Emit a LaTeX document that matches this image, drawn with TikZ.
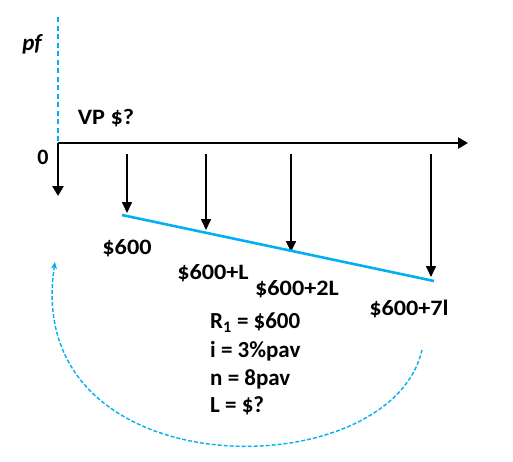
\documentclass[tikz,border=0pt]{standalone}
\usepackage{fontspec}
\setmainfont{Carlito}
\usetikzlibrary{arrows.meta}
\definecolor{skyb}{RGB}{0,176,240}
\tikzset{
  axis/.style={line width=2.6pt,-{Triangle[width=11pt,length=10pt]}},
  flow/.style={line width=1.6pt,-{Triangle[width=10pt,length=11pt]}},
  lbl/.style={font=\bfseries\fontsize{22}{26}\selectfont,inner sep=0pt,xscale=1.1},
  info/.style={font=\bfseries\fontsize{23}{27}\selectfont,inner sep=0pt,anchor=west},
  guide/.style={skyb,line width=2.4pt,dash pattern=on 5pt off 3.5pt},
  loop/.style={skyb,line width=1.4pt,dash pattern=on 4pt off 2pt,{Stealth[length=7pt,width=6pt,open]}-}
}
\begin{document}
\begin{tikzpicture}[x=1pt,y=-1pt]
\useasboundingbox (0,0) rectangle (513,461);
% dashed guide
\coordinate (gtop) at (58,17);
\coordinate (O) at (58,143);
\draw[guide] (gtop) -- (O);
\node[font=\bfseries\itshape\fontsize{23}{26}\selectfont] (pf) at (32,44) {pf};
\node[font=\bfseries\fontsize{22}{26}\selectfont,anchor=west,xscale=1.1] (vp) at (74,118) {VP \$?};
\node[font=\bfseries\fontsize{22}{26}\selectfont] (zero) at (43,157) {0};
% axis
\coordinate (E) at (468,143);
\draw[axis] (O) -- (E);
\coordinate (d0) at (58,196);
\draw[axis] (O) -- (d0);
% cash flow arrows
\coordinate (a1s) at (127,154); \coordinate (a1e) at (127,213);
\coordinate (a2s) at (206,154); \coordinate (a2e) at (206,230);
\coordinate (a3s) at (291,154); \coordinate (a3e) at (291,252);
\coordinate (a4s) at (431,154); \coordinate (a4e) at (431,277);
\draw[flow] (a1s) -- (a1e);
\draw[flow] (a2s) -- (a2e);
\draw[flow] (a3s) -- (a3e);
\draw[flow] (a4s) -- (a4e);
% gradient line
\coordinate (g1) at (122,215);
\coordinate (g2) at (434,281);
\draw[skyb,line width=2.6pt] (g1) -- (g2);
% labels
\node[lbl] (l1) at (127,248) {\$600};
\node[lbl] (l2) at (213,273) {\$600+L};
\node[lbl] (l3) at (297,289) {\$600+2L};
\node[lbl] (l4) at (409,309) {\$600+7l};
% info
\node[info] (r1) at (210,323) {R\textsubscript{1} = \$600};
\node[info] (ii) at (210,351) {i = 3\%pav};
\node[info] (nn) at (210,379) {n = 8pav};
\node[info] (ll) at (210,406) {L = \$?};
% loop
\coordinate (c1) at (422,350);
\coordinate (c2) at (55,262);
\draw[loop] (c2) .. controls (20,490) and (390,490) .. (c1);
\end{tikzpicture}
\end{document}
